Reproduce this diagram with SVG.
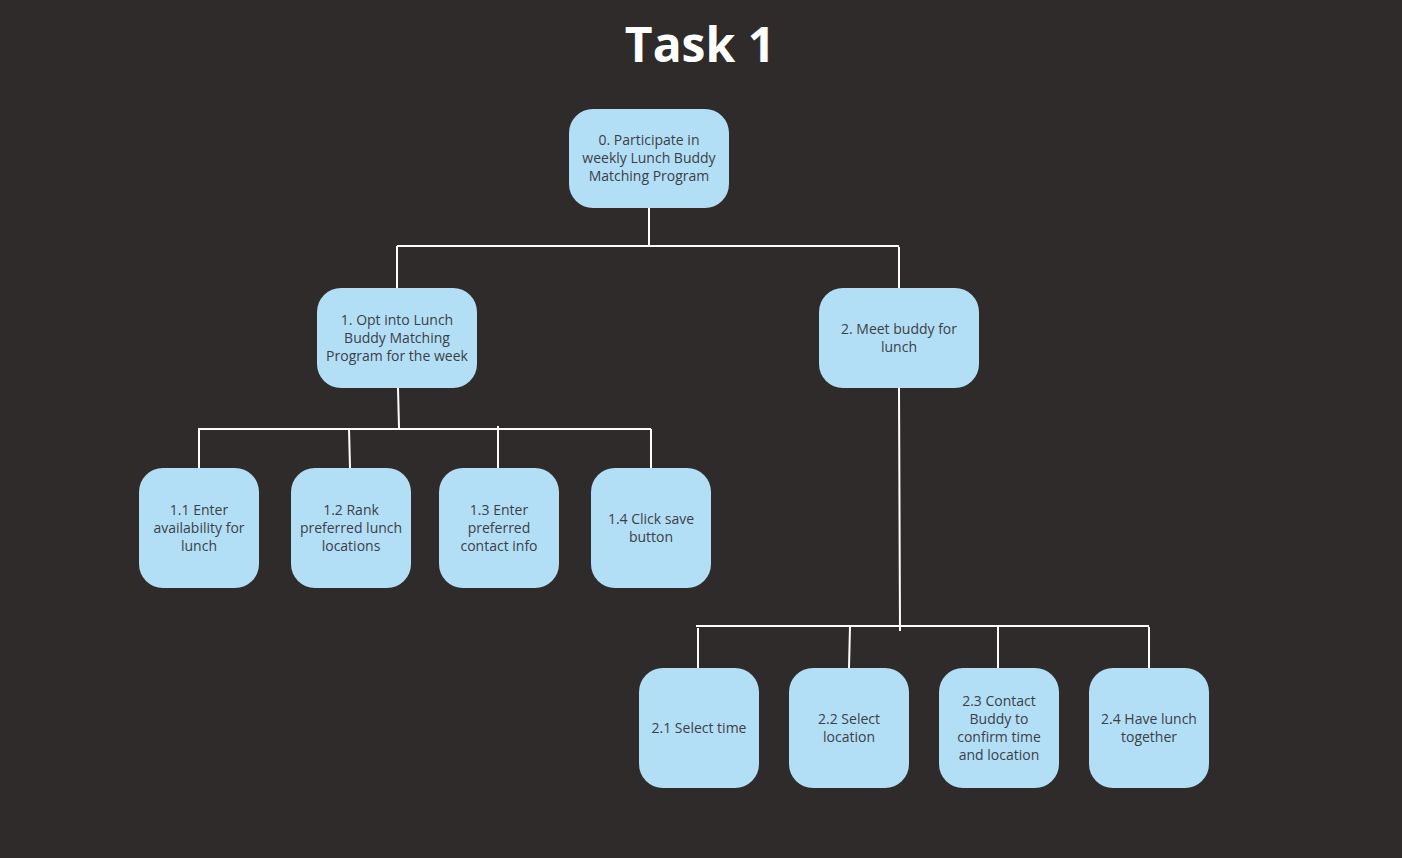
<svg xmlns="http://www.w3.org/2000/svg" width="1402" height="858" viewBox="0 0 1402 858">
<style>
.n rect{fill:#b3dff6;}
.n text{font-family:"Open Sans","Noto Sans",sans-serif;font-size:14px;fill:#3b4048;text-anchor:middle;}
.c path{stroke:#ffffff;stroke-width:2;fill:none;}
.t{font-family:"Open Sans","Noto Sans",sans-serif;font-size:48px;font-weight:bold;fill:#ffffff;text-anchor:middle;}
</style>
<rect width="1402" height="858" fill="#2f2b2b"/>
<text class="t" x="700" y="62">Task 1</text>
<g class="c">
<path d="M649 208V246M397 246H899M397 246V288M899 247V288"/>
<path d="M398 388L399 428M198 429H651M199 428V468M349 428L350 468M498 426V468M651 429V468"/>
<path d="M899 388L900 631M696 626H1149M698 628V668M850 626L849 668M998 626V668M1149 627V668"/>
</g>
<g class="n" id="n0"><rect x="569" y="109" width="160" height="99" rx="24"/><text x="649" y="145">0. Participate in</text><text x="649" y="163">weekly Lunch Buddy</text><text x="649" y="181">Matching Program</text></g>
<g class="n" id="n1"><rect x="317" y="288" width="160" height="100" rx="24"/><text x="397" y="325">1. Opt into Lunch</text><text x="397" y="343">Buddy Matching</text><text x="397" y="361">Program for the week</text></g>
<g class="n" id="n2"><rect x="819" y="288" width="160" height="100" rx="24"/><text x="899" y="334">2. Meet buddy for</text><text x="899" y="352">lunch</text></g>
<g class="n" id="n11"><rect x="139" y="468" width="120" height="120" rx="24"/><text x="199" y="515">1.1 Enter</text><text x="199" y="533">availability for</text><text x="199" y="551">lunch</text></g>
<g class="n" id="n12"><rect x="291" y="468" width="120" height="120" rx="24"/><text x="351" y="515">1.2 Rank</text><text x="351" y="533">preferred lunch</text><text x="351" y="551">locations</text></g>
<g class="n" id="n13"><rect x="439" y="468" width="120" height="120" rx="24"/><text x="499" y="515">1.3 Enter</text><text x="499" y="533">preferred</text><text x="499" y="551">contact info</text></g>
<g class="n" id="n14"><rect x="591" y="468" width="120" height="120" rx="24"/><text x="651" y="524">1.4 Click save</text><text x="651" y="542">button</text></g>
<g class="n" id="n21"><rect x="639" y="668" width="120" height="120" rx="24"/><text x="699" y="733">2.1 Select time</text></g>
<g class="n" id="n22"><rect x="789" y="668" width="120" height="120" rx="24"/><text x="849" y="724">2.2 Select</text><text x="849" y="742">location</text></g>
<g class="n" id="n23"><rect x="939" y="668" width="120" height="120" rx="24"/><text x="999" y="706">2.3 Contact</text><text x="999" y="724">Buddy to</text><text x="999" y="742">confirm time</text><text x="999" y="760">and location</text></g>
<g class="n" id="n24"><rect x="1089" y="668" width="120" height="120" rx="24"/><text x="1149" y="724">2.4 Have lunch</text><text x="1149" y="742">together</text></g>
</svg>
